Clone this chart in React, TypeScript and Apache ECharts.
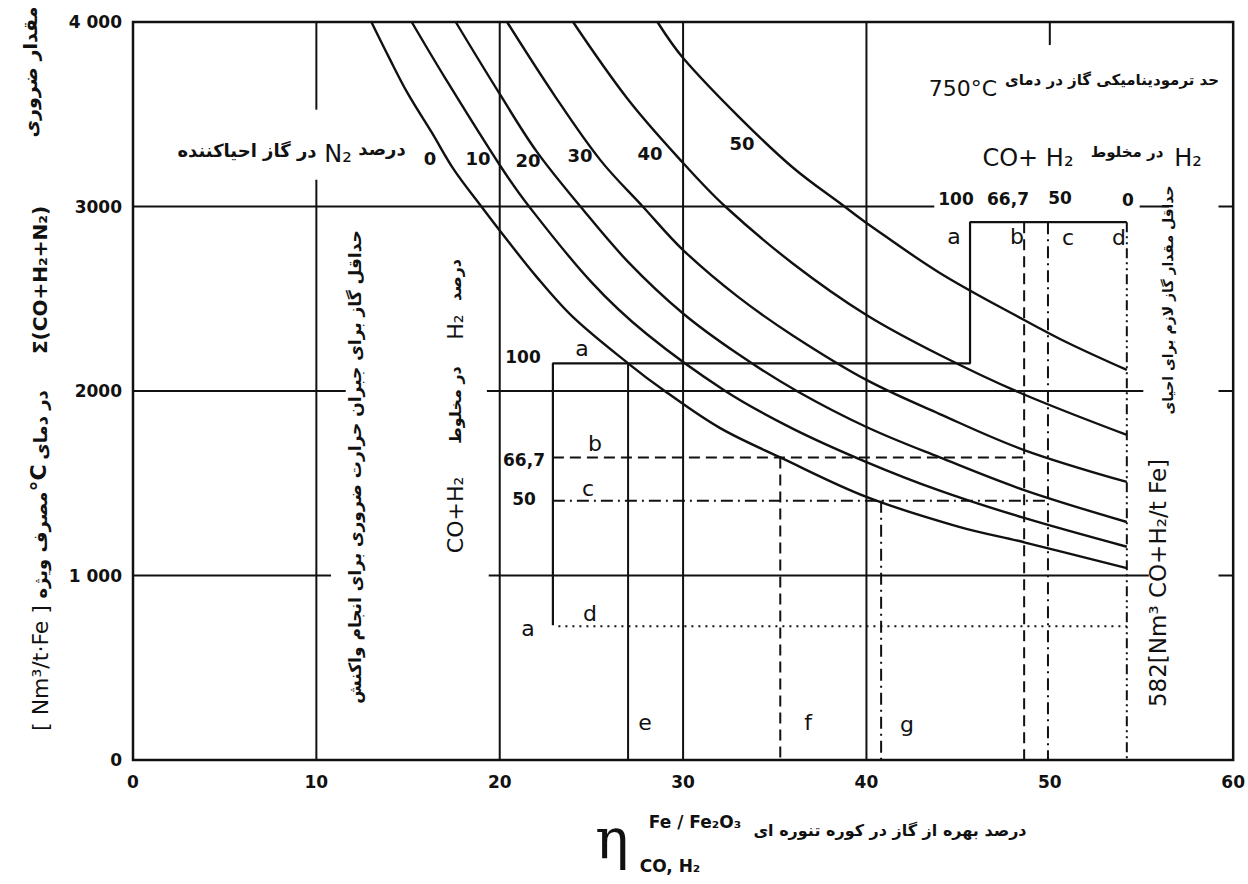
import React, { useEffect, useRef } from 'react';
import * as echarts from 'echarts';

const INK = '#111';

// Axis tick labels
const X_TICK_LABELS = ['0', '10', '20', '30', '40', '50', '60'];
const Y_TICK_LABELS = ['0', '1 000', '2000', '3000', '4 000'];

// Curves: % N2 in reducing gas [eta %, Nm3/t Fe]
const N2_LABELS = ['0', '10', '20', '30', '40', '50'];
const curveN2_0 = [[13.0, 4000], [14, 3800], [15, 3610], [16.3, 3400], [17.5, 3200], [19, 3000], [20, 2870], [22, 2620], [24, 2400], [27, 2150], [29, 2000], [32, 1800], [35.3, 1640], [40, 1426], [45, 1265], [48.6, 1180], [54.2, 1040]];
const curveN2_10 = [[15.2, 4000], [17, 3700], [20, 3225], [21.6, 3000], [25, 2590], [28, 2310], [32.3, 2000], [36, 1795], [40, 1615], [44, 1460], [48.6, 1312], [54.2, 1156]];
const curveN2_20 = [[17.6, 4000], [20, 3610], [22, 3300], [24.4, 3000], [27, 2700], [30, 2420], [33, 2200], [36.2, 2000], [40, 1805], [44, 1640], [48.6, 1463], [54.2, 1290]];
const curveN2_30 = [[20.4, 4000], [23, 3600], [25.5, 3250], [27.8, 3000], [30, 2764], [33, 2510], [36, 2300], [40, 2060], [44, 1875], [48.6, 1680], [54.2, 1507]];
const curveN2_40 = [[24, 4000], [27, 3580], [30, 3236], [32.3, 3000], [36, 2690], [40, 2412], [44, 2195], [48.5, 1985], [54.2, 1762]];
const curveN2_50 = [[28.6, 4000], [30, 3805], [33, 3490], [36, 3210], [38.8, 3000], [40, 2911], [44, 2640], [48.6, 2385], [51, 2260], [54.2, 2114]];
const CURVES = [curveN2_0, curveN2_10, curveN2_20, curveN2_30, curveN2_40, curveN2_50];

// Reference lines (grid pieces) in data units
const gridSegments = [
  [[10, 4000], [10, 3525]], [[10, 3145], [10, 0]],
  [[20, 0], [20, 4000]], [[30, 0], [30, 4000]], [[40, 0], [40, 4000]],
  [[50, 4000], [50, 3875]],
  [[0, 3000], [43.7, 3000]], [[54.9, 3000], [56.5, 3000]], [[59.2, 3000], [60, 3000]],
  [[0, 2000], [11.6, 2000]], [[19.3, 2000], [55.1, 2000]], [[59.2, 2000], [60, 2000]],
  [[0, 1000], [10.8, 1000]], [[19.4, 1000], [55.4, 1000]], [[59.2, 1000], [60, 1000]],
];

// H2 share in CO+H2 paths: a (100), b (66.7), c (50), d (0)
const pathA = [[22.9, 730], [22.9, 2150], [45.65, 2150], [45.65, 2915], [54.2, 2915]];
const lineE = [[27.0, 2150], [27.0, 0]];
const pathB = [[[22.9, 1640], [48.6, 1640]], [[35.3, 1640], [35.3, 0]], [[48.6, 2915], [48.6, 0]]];
const pathC = [[[22.9, 1405], [49.9, 1405]], [[40.8, 1405], [40.8, 0]], [[49.9, 2915], [49.9, 0]]];
const pathDh = [[23.2, 725], [54.2, 725]];
const pathDv = [[54.2, 2915], [54.2, 0]];

const seg = (data: number[][], width: number, type: any = 'solid', smooth: any = false) => ({
  type: 'line',
  data,
  symbol: 'none',
  showSymbol: false,
  smooth,
  silent: true,
  lineStyle: { color: INK, width, type, cap: 'butt' },
  z: 3,
});

const ROT = Math.PI / 2;
const T = (text: string, x: number, y: number, size: number, o: any = {}) => ({
  type: 'text',
  x,
  y,
  rotation: o.rot || 0,
  z: 20,
  silent: true,
  style: {
    text,
    fill: INK,
    fontSize: size,
    fontFamily: o.font || 'DejaVu Sans',
    fontWeight: o.weight || 'normal',
    align: o.align || 'center',
    verticalAlign: 'middle',
    textAlign: o.align || 'center',
    textVerticalAlign: 'middle',
  },
});

const B = { weight: 'bold' };
const RB = { rot: ROT, weight: 'bold' };

const curveLabelPos = [[430, 158], [478, 158], [528, 160], [580, 155], [650, 153], [742, 143]];

const texts = [
  // left axis title (rotated)
  T('مقدار ضروری', 30, 72, 19, RB),
  T('Σ(CO+H₂+N₂)', 40, 280, 20, RB),
  T('در دمای', 40, 425, 18, RB),
  T('°C', 38, 478, 22, RB),
  T('مصرف ویژه', 40, 545, 18, RB),
  T('[ Nm³/t·Fe ]', 40, 668, 22, { rot: ROT }),
  // N2 label row
  ...N2_LABELS.map((l, i) => T(l, curveLabelPos[i][0], curveLabelPos[i][1], 18, B)),
  T('درصد', 382, 148, 18, B),
  T('N₂', 338, 154, 24),
  T('در گاز احیاکننده', 247, 150, 18, B),
  // middle rotated texts
  T('حداقل گاز برای جبران حرارت ضروری برای انجام واکنش', 355, 467, 17, RB),
  T('درصد', 455, 280, 16, RB),
  T('H₂', 455, 327, 22, { rot: ROT }),
  T('در مخلوط', 455, 405, 16, RB),
  T('CO+H₂', 455, 515, 22, { rot: ROT }),
  // left path labels
  T('100', 523, 357, 17, B),
  T('a', 582, 348, 22),
  T('66,7', 524, 460, 17, B),
  T('b', 595, 443, 22),
  T('50', 524, 499, 17, B),
  T('c', 588, 488, 22),
  T('a', 528, 628, 22),
  T('d', 590, 613, 22),
  T('e', 645, 722, 22),
  T('f', 808, 722, 22),
  T('g', 907, 724, 22),
  // top right
  T('750°C', 963, 88, 22),
  T('حد ترمودینامیکی گاز در دمای', 1112, 80, 15, B),
  T('CO+ H₂', 1028, 158, 24),
  T('در مخلوط', 1127, 152, 15, B),
  T('H₂', 1188, 158, 24),
  T('100', 956, 199, 17, B),
  T('66,7', 1008, 199, 17, B),
  T('50', 1060, 198, 17, B),
  T('0', 1128, 200, 17, B),
  T('a', 954, 236, 22),
  T('b', 1017, 236, 22),
  T('c', 1068, 237, 22),
  T('d', 1119, 237, 22),
  // right rotated
  T('582[Nm³ CO+H₂/t Fe]', 1158, 583, 23, { rot: ROT }),
  T('حداقل مقدار گاز لازم برای احیای', 1168, 300, 14, RB),
  // bottom title
  T('η', 612, 838, 56, { font: 'DejaVu Serif' }),
  T('Fe / Fe₂O₃', 695, 822, 17, B),
  T('CO, H₂', 670, 866, 17, B),
  T('درصد بهره از گاز در کوره تنوره ای', 890, 830, 16, B),
];

const option: any = {
  animation: false,
  backgroundColor: '#fff',
  grid: {
    left: 133,
    top: 22,
    right: 11,
    bottom: 124,
    show: true,
    borderColor: INK,
    borderWidth: 2.5,
    backgroundColor: 'transparent',
  },
  xAxis: {
    type: 'value',
    min: 0,
    max: 60,
    interval: 10,
    axisLine: { show: false },
    axisTick: { show: false },
    splitLine: { show: false },
    axisLabel: {
      color: INK,
      fontSize: 17,
      fontWeight: 'bold',
      fontFamily: 'DejaVu Sans',
      margin: 13,
      formatter: (v: number) => X_TICK_LABELS[Math.round(v / 10)] ?? '',
    },
  },
  yAxis: {
    type: 'value',
    min: 0,
    max: 4000,
    interval: 1000,
    axisLine: { show: false },
    axisTick: { show: false },
    splitLine: { show: false },
    axisLabel: {
      color: INK,
      fontSize: 17,
      fontWeight: 'bold',
      fontFamily: 'DejaVu Sans',
      margin: 11,
      formatter: (v: number) => Y_TICK_LABELS[Math.round(v / 1000)] ?? '',
    },
  },
  series: [
    ...gridSegments.map((s) => seg(s, 2)),
    ...CURVES.map((c) => seg(c, 2.4, 'solid', 0.35)),
    seg(pathA, 2.2),
    seg(lineE, 2),
    ...pathB.map((s) => seg(s, 2, [11, 6])),
    ...pathC.map((s) => seg(s, 2, [12, 5, 2, 5])),
    seg(pathDh, 2, [2, 5]),
    seg(pathDv, 2, [10, 4, 2, 4, 2, 4]),
  ],
  graphic: { elements: texts },
};

export default function App() {
  const ref = useRef<HTMLDivElement>(null);
  useEffect(() => {
    const chart = echarts.init(ref.current!, null, { renderer: 'svg' });
    chart.setOption(option);
    return () => chart.dispose();
  }, []);
  return (
    <div
      ref={ref}
      style={{ position: 'absolute', left: 0, top: 0, width: 1248, height: 884, background: '#fff' }}
    />
  );
}
